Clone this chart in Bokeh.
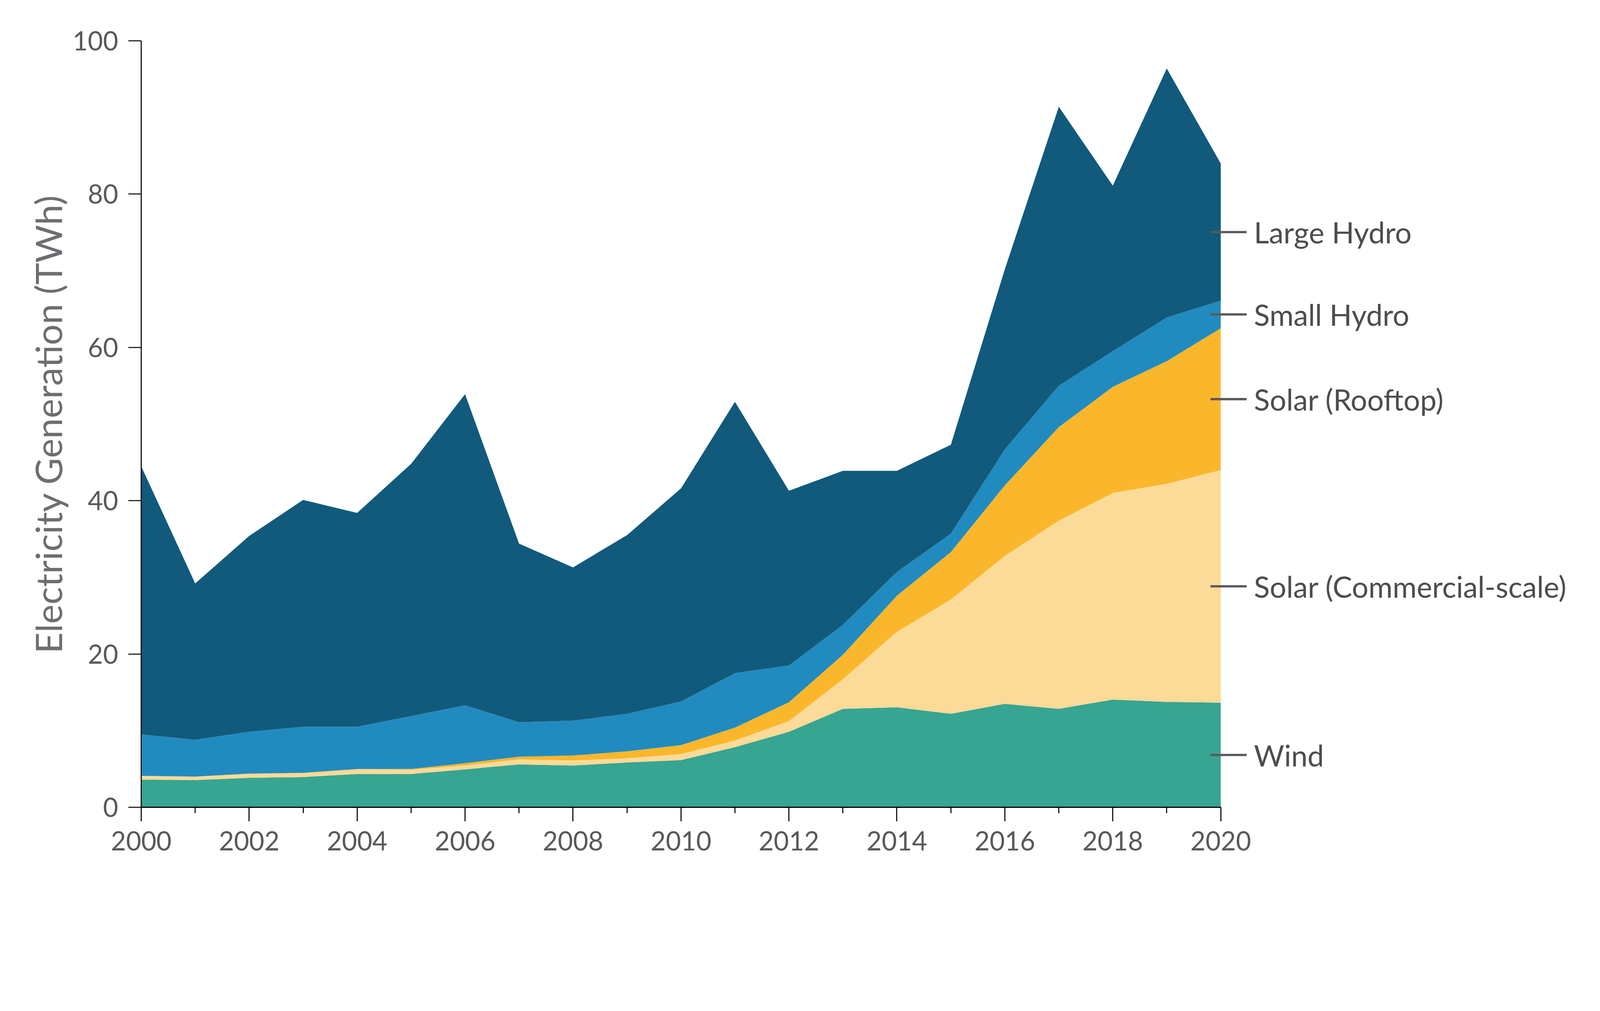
import numpy as np
from bokeh.plotting import figure
from bokeh.models import ColumnDataSource, FixedTicker, Range1d
from bokeh.core.properties import value
from bokeh.embed import file_html
from bokeh.resources import INLINE

# ---- data (TWh) ----
years = list(range(2000, 2021))
wind = [3.6, 3.55, 3.85, 3.95, 4.35, 4.35, 4.95, 5.6, 5.45, 5.85, 6.15,
        7.85, 9.85, 12.85, 13.05, 12.2, 13.5, 12.85, 14.05, 13.75, 13.65]
solar_commercial = [0.5, 0.45, 0.5, 0.5, 0.6, 0.55, 0.5, 0.65, 0.65, 0.55, 0.8,
                    0.85, 1.4, 3.85, 9.85, 14.9, 19.3, 24.55, 26.95, 28.45, 30.35]
solar_rooftop = [0.0, 0.0, 0.05, 0.05, 0.05, 0.1, 0.3, 0.35, 0.65, 0.9, 1.15,
                 1.7, 2.45, 3.2, 4.7, 6.2, 9.2, 12.2, 13.85, 16.0, 18.5]
small_hydro = [5.4, 4.8, 5.45, 6.0, 5.5, 6.9, 7.55, 4.5, 4.55, 4.9, 5.7,
               7.1, 4.8, 3.9, 3.1, 2.4, 4.7, 5.4, 4.65, 5.7, 3.6]
large_hydro = [35.0, 20.4, 25.55, 29.6, 27.9, 32.9, 40.6, 23.3, 20.0, 23.3, 27.8,
               35.4, 22.8, 20.1, 13.2, 11.6, 23.5, 36.4, 21.6, 32.5, 17.9]

series_names = ["Wind", "Solar (Commercial-scale)", "Solar (Rooftop)", "Small Hydro", "Large Hydro"]
series_keys = ["wind", "solar_commercial", "solar_rooftop", "small_hydro", "large_hydro"]
series_colors = ["#37a591", "#fcda98", "#fbb72c", "#218bbf", "#115a7c"]
y_ticks = [0, 20, 40, 60, 80, 100]
x_major_ticks = list(range(2000, 2021, 2))
x_minor_ticks = list(range(2001, 2020, 2))

source = ColumnDataSource(dict(
    year=years, wind=wind, solar_commercial=solar_commercial,
    solar_rooftop=solar_rooftop, small_hydro=small_hydro, large_hydro=large_hydro))

K = 1 / 1.1245  # css px per reference px


def px(v):
    return int(round(v * K))


TEXT = "#58595b"

p = figure(frame_width=px(155.4 * 26.9), frame_height=px(2206),
           x_range=Range1d(2000, 2026.9), y_range=Range1d(0, 100),
           output_backend="svg", toolbar_location=None,
           min_border_left=px(406), min_border_top=px(117),
           min_border_bottom=px(2560) - px(2323),
           min_border_right=2)
p.outline_line_color = None
p.grid.visible = False
p.background_fill_color = "white"
p.border_fill_color = "white"

p.varea_stack(stackers=series_keys, x="year", color=series_colors, source=source)

# ---- axes ----
xa = p.xaxis[0]
xa.ticker = FixedTicker(ticks=x_major_ticks, minor_ticks=x_minor_ticks)
xa.bounds = (2000, 2020)
xa.axis_line_width = 3.5 * K
xa.axis_line_color = "black"
xa.major_tick_line_width = 3 * K
xa.major_tick_line_color = "black"
xa.minor_tick_line_width = 3 * K
xa.minor_tick_line_color = "black"
xa.major_tick_in = 0
xa.major_tick_out = px(40)
xa.minor_tick_in = 0
xa.minor_tick_out = px(17)
xa.major_label_standoff = px(28)
xa.major_label_text_font = "Lato"
xa.major_label_text_font_size = f"{px(75)}px"
xa.major_label_text_color = TEXT

ya = p.yaxis[0]
ya.ticker = FixedTicker(ticks=y_ticks)
ya.bounds = (0, 100)
ya.axis_line_width = 3 * K
ya.axis_line_color = "black"
ya.major_tick_line_width = 3 * K
ya.major_tick_line_color = "black"
ya.major_tick_in = 0
ya.major_tick_out = px(37)
ya.minor_tick_line_color = None
ya.major_label_standoff = px(29)
ya.major_label_text_font = "Lato"
ya.major_label_text_font_size = f"{px(75)}px"
ya.major_label_text_color = TEXT
ya.axis_label = "Electricity Generation (TWh)"
ya.axis_label_text_font = "Lato"
ya.axis_label_text_font_size = f"{px(106)}px"
ya.axis_label_text_font_style = "normal"
ya.axis_label_text_color = "#6d6e71"
ya.axis_label_standoff = px(4)

# ---- series labels at the right end ----
last = np.array([wind[-1], solar_commercial[-1], solar_rooftop[-1], small_hydro[-1], large_hydro[-1]])
tops = np.cumsum(last)
mids = list(tops - last / 2)
end_year = years[-1]
p.segment(x0=[end_year - 0.19] * len(mids), y0=mids,
          x1=[end_year + 0.48] * len(mids), y1=mids,
          line_width=6.5 * K, line_color=TEXT)
p.text(x=[end_year] * len(mids), y=mids, text=series_names,
       x_offset=px(96), text_align="left", text_baseline="middle",
       text_font=value("Lato"), text_font_size=f"{px(84)}px", text_color="#4d4d4f")

open("out.html", "w").write(file_html(p, INLINE))
